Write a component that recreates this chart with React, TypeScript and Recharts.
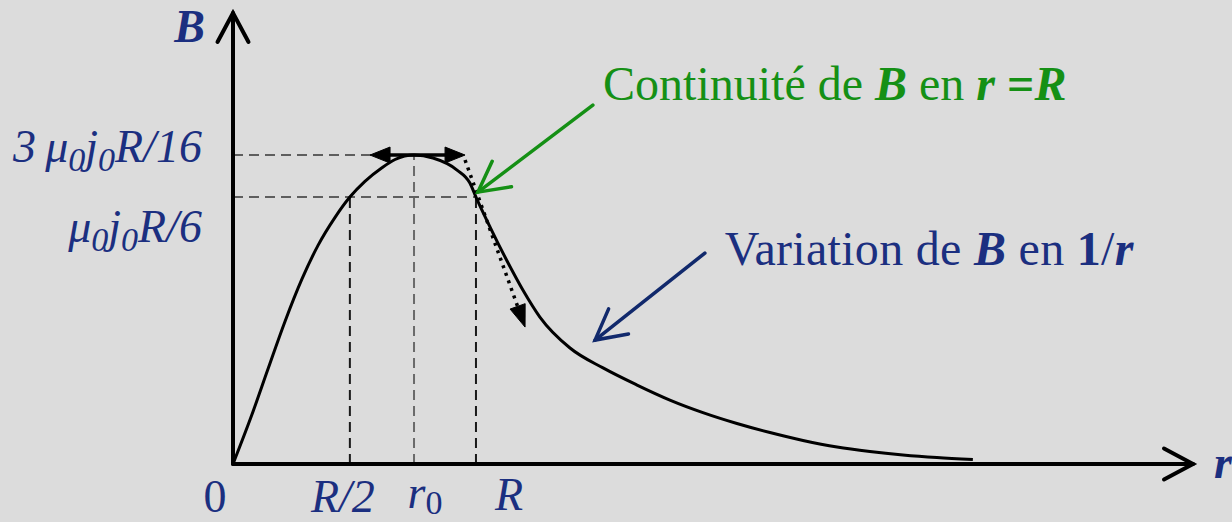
import React from 'react';
import { ComposedChart, Line, XAxis, YAxis, ReferenceLine, ReferenceDot } from 'recharts';

// Magnetic field profile B(r) of the conductor: r in units of R, B in units of μ0·j0·R
const radius = [0, 0.078, 0.144, 0.214, 0.284, 0.35, 0.42, 0.481, 0.543, 0.613, 0.667, 0.745, 0.823, 0.922, 0.975, 1.0, 1.058, 1.128, 1.193, 1.263, 1.387, 1.523, 1.663, 1.798, 1.934, 2.074, 2.21, 2.346, 2.486, 2.621, 2.757, 2.897, 3.045];
const field = [0, 0.03, 0.0576, 0.0865, 0.1123, 0.1327, 0.1497, 0.162, 0.1715, 0.1798, 0.1848, 0.1875, 0.1857, 0.1784, 0.1705, 0.162, 0.1438, 0.1232, 0.1056, 0.0892, 0.0704, 0.0583, 0.0479, 0.0388, 0.0312, 0.0246, 0.0191, 0.0143, 0.0103, 0.0076, 0.0055, 0.0039, 0.0027];

// Remarkable abscissas: 0, R/2, r0 (maximum of B), R
const xTickValues = [0, 0.481, 0.745, 1.0];
const xTickLabels = ['0', 'R/2', 'r_0', 'R'];
// Remarkable ordinates: B(R) and Bmax
const yTickValues = [0.162, 0.1875];
const yTickLabels = ['μ_0j_0R/6', '3\u2009μ_0j_0R/16'];

const R_HALF = xTickValues[1];
const R0 = xTickValues[2];
const R_EDGE = xTickValues[3];
const B_EDGE = yTickValues[0];
const B_MAX = yTickValues[1];

const X_MAX = 3.951;
const Y_MAX = 0.2737;

const data = radius.map((r, i) => ({ r, B: field[i] }));

const FONT = '"Liberation Serif", "Times New Roman", serif';
const NAVY = '#1b2f80';
const ARROW_BLUE = '#11296c';
const GREEN = '#159015';
const BG = '#dcdcdc';

type Head = 'none' | 'open' | 'filled';
interface ArrowOpts {
  color: string;
  width: number;
  dash?: string;
  start?: Head;
  end?: Head;
  len: number;
  half: number;
}

// Line segment with optional arrowheads, drawn from the reference line's end points
const arrowShape = (o: ArrowOpts) => (p: any) => {
  const { x1, y1, x2, y2 } = p;
  if ([x1, y1, x2, y2].some((v) => typeof v !== 'number' || isNaN(v))) return <g />;
  const dx = x2 - x1;
  const dy = y2 - y1;
  const L = Math.hypot(dx, dy) || 1;
  const ux = dx / L;
  const uy = dy / L;
  const head = (tx: number, ty: number, vx: number, vy: number, kind: Head, key: string) => {
    if (kind === 'none' || !kind) return null;
    const bx = tx - vx * o.len;
    const by = ty - vy * o.len;
    const nx = -vy;
    const ny = vx;
    const a = `${bx + nx * o.half},${by + ny * o.half}`;
    const b = `${bx - nx * o.half},${by - ny * o.half}`;
    if (kind === 'open') {
      return (
        <polyline key={key} points={`${a} ${tx},${ty} ${b}`} fill="none" stroke={o.color}
          strokeWidth={o.width} strokeLinecap="round" strokeLinejoin="miter" />
      );
    }
    return <polygon key={key} points={`${a} ${tx},${ty} ${b}`} fill={o.color} stroke={o.color} strokeWidth={1} />;
  };
  const sx = o.start === 'filled' ? x1 + ux * o.len * 0.8 : x1;
  const sy = o.start === 'filled' ? y1 + uy * o.len * 0.8 : y1;
  const ex = o.end === 'filled' ? x2 - ux * o.len * 0.8 : x2;
  const ey = o.end === 'filled' ? y2 - uy * o.len * 0.8 : y2;
  return (
    <g>
      <line x1={sx} y1={sy} x2={ex} y2={ey} stroke={o.color} strokeWidth={o.width}
        strokeDasharray={o.dash} strokeLinecap={o.dash ? 'butt' : 'round'} />
      {head(x2, y2, ux, uy, o.end || 'none', 'e')}
      {head(x1, y1, -ux, -uy, o.start || 'none', 's')}
    </g>
  );
};

// Text with "_x" subscripts
const renderSubscripts = (label: string, size: number, subItalic: boolean, shift: number) => {
  const parts: React.ReactNode[] = [];
  let buf = '';
  let shifted = false;
  let k = 0;
  for (let i = 0; i < label.length; i++) {
    const ch = label[i];
    if (ch === '_' && i + 1 < label.length) {
      if (buf) {
        parts.push(<tspan key={k++} dy={shifted ? -size * shift : undefined}>{buf}</tspan>);
        shifted = false;
        buf = '';
      }
      parts.push(
        <tspan key={k++} fontSize={size * 0.74} fontStyle={subItalic ? 'italic' : 'normal'}
          dy={shifted ? 0 : size * shift}>{label[i + 1]}</tspan>
      );
      shifted = true;
      i++;
    } else {
      buf += ch;
    }
  }
  if (buf) parts.push(<tspan key={k++} dy={shifted ? -size * shift : undefined}>{buf}</tspan>);
  return parts;
};

const TICK_SIZE = 46;
const xTickOffsets = [
  { dx: -18, dy: 48, italic: false },
  { dx: -7, dy: 48, italic: true },
  { dx: 11, dy: 44, italic: true },
  { dx: 33, dy: 46, italic: true },
];
const yTickOffsets = [
  { dx: -31, dy: 45 },
  { dx: -31, dy: 7 },
];

const XTick = (props: any) => {
  const { x, y, payload } = props;
  const idx = xTickValues.indexOf(payload.value);
  if (idx < 0) return <g />;
  const off = xTickOffsets[idx];
  return (
    <text x={x + off.dx} y={y + off.dy} textAnchor="middle" fontFamily={FONT} fontSize={TICK_SIZE}
      fontStyle={off.italic ? 'italic' : 'normal'} fill={NAVY}>
      {renderSubscripts(xTickLabels[idx], TICK_SIZE, false, 0.14)}
    </text>
  );
};

const YTick = (props: any) => {
  const { x, y, payload } = props;
  const idx = yTickValues.indexOf(payload.value);
  if (idx < 0) return <g />;
  const off = yTickOffsets[idx];
  return (
    <text x={x + off.dx} y={y + off.dy} textAnchor="end" fontFamily={FONT} fontSize={TICK_SIZE}
      fontStyle="italic" fill={NAVY}>
      {renderSubscripts(yTickLabels[idx], TICK_SIZE, true, 0.2)}
    </text>
  );
};

interface Run { t: string; b?: boolean; i?: boolean }
const continuityText: Run[] = [
  { t: 'Continuité de ' }, { t: 'B', b: true, i: true }, { t: ' en ' },
  { t: 'r', b: true, i: true }, { t: ' =', b: true }, { t: 'R', b: true, i: true },
];
const decayText: Run[] = [
  { t: 'Variation de ' }, { t: 'B', b: true, i: true }, { t: ' en ' },
  { t: '1', b: true }, { t: '/' }, { t: 'r', b: true, i: true },
];

const textShape = (runs: Run[], color: string, size: number, dx: number, dy: number,
  anchor: string = 'start', spacing: number = 0) =>
  (p: any) => (
    <text x={p.cx + dx} y={p.cy + dy} fontFamily={FONT} fontSize={size} fill={color} textAnchor={anchor}
      letterSpacing={spacing} style={{ whiteSpace: 'pre' }}>
      {runs.map((r, k) => (
        <tspan key={k} fontWeight={r.b ? 'bold' : 'normal'} fontStyle={r.i ? 'italic' : 'normal'}>{r.t}</tspan>
      ))}
    </text>
  );

const axisArrow = arrowShape({ color: '#000', width: 4, end: 'open', len: 29, half: 15.5 });
const guideStyle = { strokeWidth: 2, strokeDasharray: '10 6' };

export default function App() {
  return (
    <div style={{ position: 'fixed', left: 0, top: 0, width: 1232, height: 522, background: BG }}>
      <ComposedChart width={1232} height={522} data={data}
        margin={{ top: 13, right: 39, bottom: 0, left: 33 }}>
        <XAxis dataKey="r" type="number" domain={[0, X_MAX]} ticks={xTickValues} interval={0}
          tick={<XTick />} tickLine={false} axisLine={false} tickSize={0} tickMargin={0} height={58} />
        <YAxis type="number" domain={[0, Y_MAX]} ticks={yTickValues} interval={0}
          tick={<YTick />} tickLine={false} axisLine={false} tickSize={0} tickMargin={0} width={200} />

        {/* dashed guides */}
        <ReferenceLine segment={[{ x: 0, y: B_MAX }, { x: R0, y: B_MAX }]} stroke="#5e5e5e" {...guideStyle} />
        <ReferenceLine segment={[{ x: 0, y: B_EDGE }, { x: R_EDGE, y: B_EDGE }]} stroke="#5e5e5e" {...guideStyle} />
        <ReferenceLine segment={[{ x: R_HALF, y: 0 }, { x: R_HALF, y: B_EDGE }]} stroke="#1a1a1a" {...guideStyle} />
        <ReferenceLine segment={[{ x: R0, y: 0 }, { x: R0, y: B_MAX }]} stroke="#6a6a6a" {...guideStyle} />
        <ReferenceLine segment={[{ x: R_EDGE, y: 0 }, { x: R_EDGE, y: B_EDGE }]} stroke="#1a1a1a" {...guideStyle} />

        <Line dataKey="B" type="monotone" stroke="#000" strokeWidth={3} dot={false}
          activeDot={false} isAnimationActive={false} />

        {/* axes */}
        <ReferenceLine segment={[{ x: 0, y: 0 }, { x: X_MAX, y: 0 }]} shape={axisArrow} />
        <ReferenceLine segment={[{ x: 0, y: 0 }, { x: 0, y: Y_MAX }]} shape={axisArrow} />

        {/* horizontal tangent at the maximum */}
        <ReferenceLine segment={[{ x: 0.564, y: B_MAX }, { x: 0.955, y: B_MAX }]}
          shape={arrowShape({ color: '#000', width: 3.5, start: 'filled', end: 'filled', len: 20, half: 8 })} />
        {/* tangent of the inner solution at r = R */}
        <ReferenceLine segment={[{ x: 0.955, y: 0.1845 }, { x: 1.202, y: 0.0831 }]}
          shape={arrowShape({ color: '#000', width: 3.5, dash: '3 5', end: 'filled', len: 22, half: 8 })} />

        {/* annotation arrows */}
        <ReferenceLine segment={[{ x: 1.481, y: 0.2178 }, { x: 1.008, y: 0.165 }]}
          shape={arrowShape({ color: GREEN, width: 3.5, end: 'open', len: 30, half: 16 })} />
        <ReferenceLine segment={[{ x: 1.942, y: 0.128 }, { x: 1.49, y: 0.0752 }]}
          shape={arrowShape({ color: ARROW_BLUE, width: 3.5, end: 'open', len: 30, half: 16 })} />

        {/* annotation texts */}
        <ReferenceDot x={1.523} y={0.2209} r={0} ifOverflow="visible"
          shape={textShape(continuityText, GREEN, 48, 0, 0)} />
        <ReferenceDot x={2.024} y={0.1208} r={0} ifOverflow="visible"
          shape={textShape(decayText, NAVY, 48, 0, 0, 'start', 0.3)} />

        {/* axis names */}
        <ReferenceDot x={0} y={Y_MAX} r={0} ifOverflow="visible"
          shape={textShape([{ t: 'B', b: true, i: true }], NAVY, 46, -28, 29, 'end')} />
        <ReferenceDot x={X_MAX} y={0} r={0} ifOverflow="visible"
          shape={textShape([{ t: 'r', b: true, i: true }], NAVY, 46, 21, 14)} />
      </ComposedChart>
    </div>
  );
}
